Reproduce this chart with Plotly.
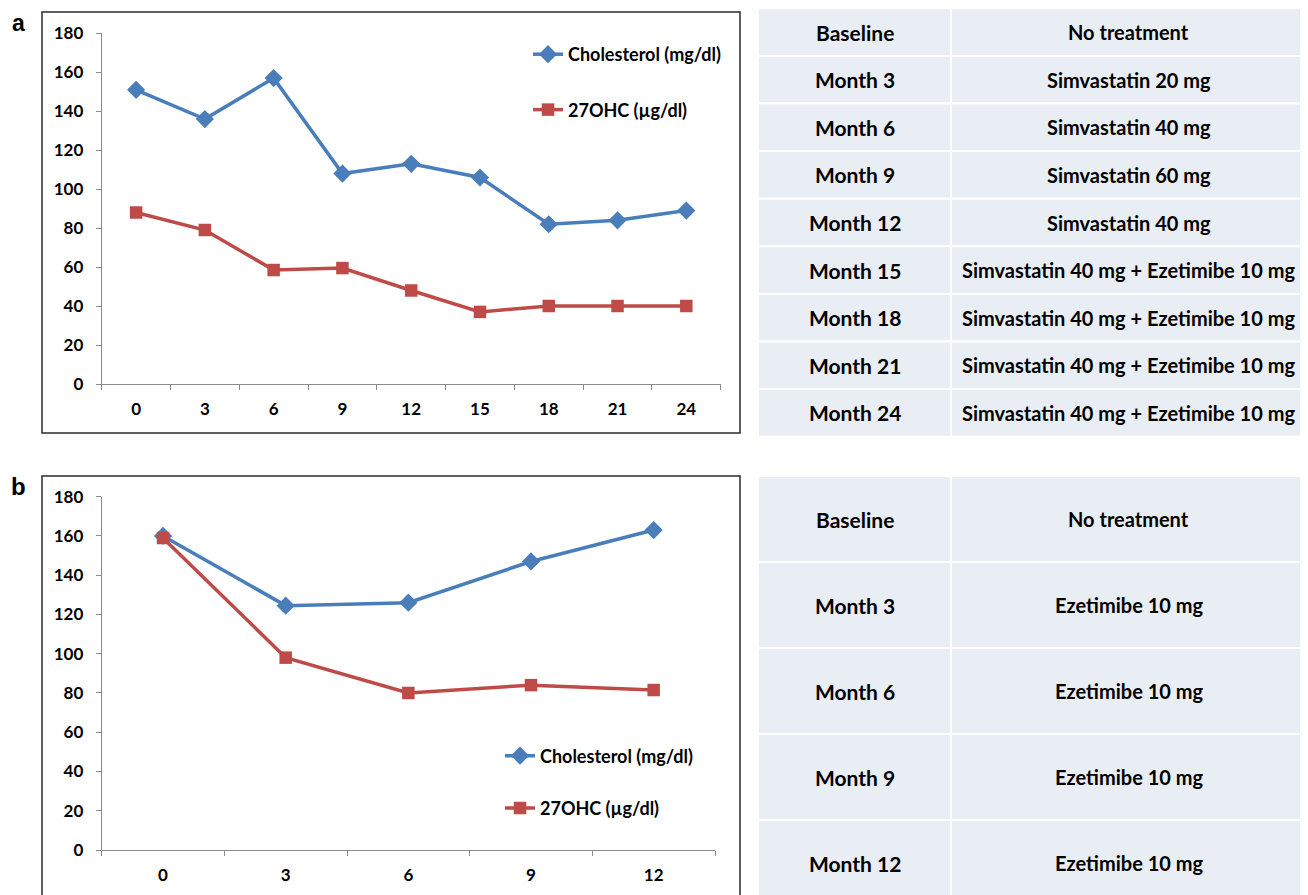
import plotly.graph_objects as go

# ---------------- data ----------------
months_a = ["0", "3", "6", "9", "12", "15", "18", "21", "24"]
chol_a = [151, 136, 157, 108, 113, 106, 82, 84, 89]
ohc_a = [88, 79, 58.5, 59.5, 48, 37, 40, 40, 40]

months_b = ["0", "3", "6", "9", "12"]
chol_b = [160, 124.5, 126, 147, 163]
ohc_b = [159, 98, 80, 84, 81.5]

y_ticks = [0, 20, 40, 60, 80, 100, 120, 140, 160, 180]

series_names = ["Cholesterol (mg/dl)", "27OHC (\u00b5g/dl)"]

table_a_period = ["Baseline", "Month 3", "Month 6", "Month 9", "Month 12",
                  "Month 15", "Month 18", "Month 21", "Month 24"]
table_a_treat = ["No treatment", "Simvastatin 20 mg", "Simvastatin 40 mg",
                 "Simvastatin 60 mg", "Simvastatin 40 mg",
                 "Simvastatin 40 mg + Ezetimibe 10 mg",
                 "Simvastatin 40 mg + Ezetimibe 10 mg",
                 "Simvastatin 40 mg + Ezetimibe 10 mg",
                 "Simvastatin 40 mg + Ezetimibe 10 mg"]
table_b_period = ["Baseline", "Month 3", "Month 6", "Month 9", "Month 12"]
table_b_treat = ["No treatment", "Ezetimibe 10 mg", "Ezetimibe 10 mg",
                 "Ezetimibe 10 mg", "Ezetimibe 10 mg"]

# ---------------- style ----------------
W, H = 1308, 895
OFF = 8  # page body margin
BLUE = "#4A7EBB"
RED = "#BE4B48"
AXIS = "#8C8C8C"
CELL = "#E9EDF4"
FONT = "Lato"


def px(x):
    return (x - OFF) / W


def py(y):
    return 1 - (y - OFF) / H


fig = go.Figure()

# panel a traces
fig.add_trace(go.Scatter(x=months_a, y=chol_a, name=series_names[0], mode="lines+markers",
                         line=dict(color=BLUE, width=3.5),
                         marker=dict(symbol="diamond", size=14, color=BLUE),
                         xaxis="x", yaxis="y", legend="legend", legendgroup="a1"))
fig.add_trace(go.Scatter(x=months_a, y=ohc_a, name=series_names[1], mode="lines+markers",
                         line=dict(color=RED, width=3.5),
                         marker=dict(symbol="square", size=12.5, color=RED),
                         xaxis="x", yaxis="y", legend="legend", legendgroup="a2"))
# panel b traces
fig.add_trace(go.Scatter(x=months_b, y=chol_b, name=series_names[0], mode="lines+markers",
                         line=dict(color=BLUE, width=3.5),
                         marker=dict(symbol="diamond", size=14, color=BLUE),
                         xaxis="x2", yaxis="y2", legend="legend2", legendgroup="b1"))
fig.add_trace(go.Scatter(x=months_b, y=ohc_b, name=series_names[1], mode="lines+markers",
                         line=dict(color=RED, width=3.5),
                         marker=dict(symbol="square", size=12.5, color=RED),
                         xaxis="x2", yaxis="y2", legend="legend2", legendgroup="b2"))

tickfont = dict(family=FONT, size=17, color="black", weight="bold")
common_x = dict(type="category", tickson="boundaries", showline=True, linecolor=AXIS,
                linewidth=1, ticks="outside", ticklen=5, tickcolor=AXIS, showgrid=False,
                zeroline=False, tickfont=tickfont, ticklabelstandoff=10, fixedrange=True,
                automargin=False)
common_y = dict(range=[0, 180], tickvals=y_ticks, showline=True, linecolor=AXIS, linewidth=1,
                ticks="outside", ticklen=5, tickcolor=AXIS, showgrid=False, zeroline=False,
                tickfont=tickfont, ticklabelstandoff=9, fixedrange=True, automargin=False)

legend_font = dict(family=FONT, size=18, color="black", weight="bold")

fig.update_layout(
    template="none",
    width=W, height=H, autosize=False,
    margin=dict(l=0, r=0, t=0, b=0, pad=0, autoexpand=False),
    paper_bgcolor="white", plot_bgcolor="white",
    font=dict(family=FONT, color="black"),
    xaxis=dict(domain=[px(101.7), px(720.7)], range=[-0.5, len(months_a) - 0.5],
               anchor="y", **common_x),
    yaxis=dict(domain=[py(384), py(33.3)], anchor="x", **common_y),
    xaxis2=dict(domain=[px(101.7), px(715)], range=[-0.5, len(months_b) - 0.5],
                anchor="y2", **common_x),
    yaxis2=dict(domain=[py(850), py(496.7)], anchor="x2", **common_y),
    legend=dict(x=px(528), y=py(36), xanchor="left", yanchor="top",
                font=legend_font, tracegroupgap=29,
                bgcolor="rgba(0,0,0,0)", itemclick=False),
    legend2=dict(x=px(500), y=py(737.5), xanchor="left", yanchor="top",
                 font=legend_font, tracegroupgap=26,
                 bgcolor="rgba(0,0,0,0)", itemclick=False),
    showlegend=True,
)

shapes = []
annotations = []

# chart borders
shapes.append(dict(type="rect", xref="paper", yref="paper", x0=px(42), x1=px(740),
                   y0=py(433), y1=py(12), line=dict(color="#2A2A2A", width=1.5),
                   fillcolor="rgba(0,0,0,0)", layer="below"))
shapes.append(dict(type="rect", xref="paper", yref="paper", x0=px(42), x1=px(740),
                   y0=py(910), y1=py(476), line=dict(color="#2A2A2A", width=1.5),
                   fillcolor="rgba(0,0,0,0)", layer="below"))

# panel labels
annotations.append(dict(text="a", x=px(18), y=1.0, xref="paper", yref="paper",
                        xanchor="center", yanchor="top", showarrow=False,
                        font=dict(family="Liberation Sans", size=23,
                                  color="black", weight="bold")))
annotations.append(dict(text="b", x=px(18), y=py(486), xref="paper", yref="paper",
                        xanchor="center", yanchor="middle", showarrow=False,
                        font=dict(family="Liberation Sans", size=24,
                                  color="black", weight="bold")))

# tables
col_x = [758, 951, 1306]


def add_table(periods, treats, top, row_h):
    for i, (p, t) in enumerate(zip(periods, treats)):
        y0 = top + i * row_h
        y1 = y0 + row_h
        for c in range(2):
            shapes.append(dict(type="rect", xref="paper", yref="paper",
                               x0=px(col_x[c]), x1=px(col_x[c + 1]),
                               y0=py(y1), y1=py(y0), fillcolor=CELL,
                               line=dict(color="white", width=2), layer="below"))
        ymid = py((y0 + y1) / 2)
        annotations.append(dict(text=p, x=px((col_x[0] + col_x[1]) / 2), y=ymid,
                                xref="paper", yref="paper", showarrow=False,
                                xanchor="center", yanchor="middle",
                                font=dict(family=FONT, size=21, color="black", weight="bold")))
        annotations.append(dict(text=t, x=px((col_x[1] + col_x[2]) / 2), y=ymid,
                                xref="paper", yref="paper", showarrow=False,
                                xanchor="center", yanchor="middle",
                                font=dict(family=FONT, size=20, color="black", weight="bold")))


add_table(table_a_period, table_a_treat, 8.3, 47.6)
add_table(table_b_period, table_b_treat, 476, 86)

fig.update_layout(shapes=shapes, annotations=annotations)

fig.write_html("out.html")
